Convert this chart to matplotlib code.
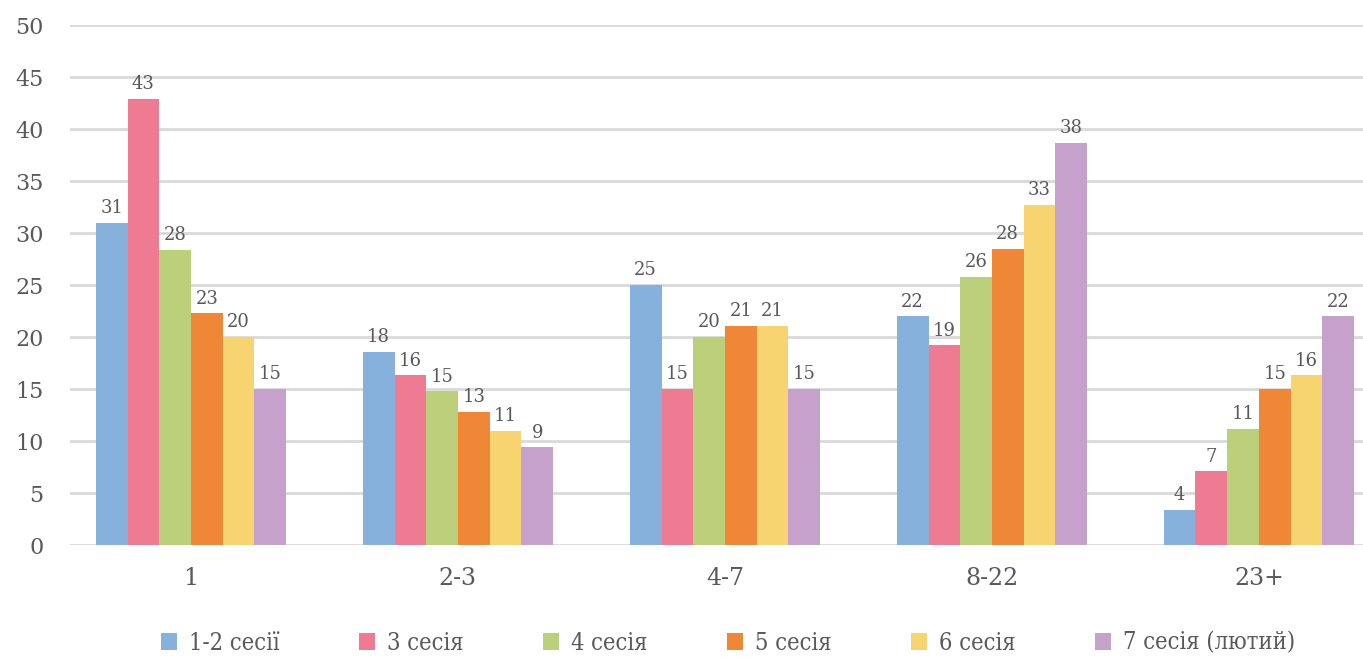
import numpy as np
import matplotlib
matplotlib.use("Agg")
import matplotlib.pyplot as plt
from matplotlib.font_manager import FontProperties

# sessions vs groups
categories = ["1", "2-3", "4-7", "8-22", "23+"]
series_names = ["1-2 сесії", "3 сесія", "4 сесія", "5 сесія", "6 сесія", "7 сесія (лютий)"]

# bar heights
s12 = [31.0, 18.6, 25.0, 22.0, 3.4]
s3 = [42.9, 16.3, 15.0, 19.2, 7.1]
s4 = [28.4, 14.8, 20.0, 25.8, 11.2]
s5 = [22.3, 12.8, 21.1, 28.5, 15.0]
s6 = [20.0, 11.0, 21.1, 32.7, 16.3]
s7 = [15.0, 9.4, 15.0, 38.7, 22.0]
values = [s12, s3, s4, s5, s6, s7]

# printed data labels (as shown on the chart)
labels = [
    ["31", "18", "25", "22", "4"],
    ["43", "16", "15", "19", "7"],
    ["28", "15", "20", "26", "11"],
    ["23", "13", "21", "28", "15"],
    ["20", "11", "21", "33", "16"],
    ["15", "9", "15", "38", "22"],
]

colors = ["#86B1DC", "#EF7B93", "#BCD07C", "#F08737", "#F7D470", "#C5A1CB"]
txt = "#595959"

plt.rcParams['font.family'] = ['DejaVu Serif', 'DejaVu Sans']

fig = plt.figure(figsize=(13.63, 6.57), dpi=100)
ax = fig.add_axes([70 / 1363, 1 - 545 / 657, 1 - 70 / 1363, (545 - 25) / 657])

x = np.arange(len(categories))
w = 0.1187
for i in range(6):
    pos = x + (i - 2.5) * w
    bars = ax.bar(pos, values[i], width=w, color=colors[i], label=series_names[i], zorder=2)
    for j, b in enumerate(bars):
        ax.annotate(labels[i][j], (b.get_x() + w / 2, b.get_height()),
                    xytext=(0, 4), textcoords="offset points",
                    ha="center", va="bottom", fontsize=13, color=txt)

ax.set_ylim(0, 50)
ax.set_xlim(-0.453, 4.39)
ax.set_yticks(range(0, 51, 5))
ax.set_xticks(x)
ax.set_xticklabels(categories)
ax.yaxis.grid(True, color="#d9d9d9", linewidth=2)
ax.set_axisbelow(True)
for sp in ax.spines.values():
    sp.set_visible(False)
ax.tick_params(axis="both", length=0, colors=txt)
ax.tick_params(axis="y", pad=19, labelsize=16)
ax.tick_params(axis="x", pad=16, labelsize=17)

legfont = FontProperties(family=['DejaVu Serif', 'DejaVu Sans'], size=17, stretch='condensed')
leg = fig.legend(loc="center", bbox_to_anchor=(728 / 1363, 1 - 643 / 657), ncol=6,
                 frameon=False, prop=legfont, handlelength=0.7, handleheight=0.7,
                 handletextpad=0.5, columnspacing=3.35)
for t in leg.get_texts():
    t.set_color(txt)

fig.savefig("out.png", dpi=100)
